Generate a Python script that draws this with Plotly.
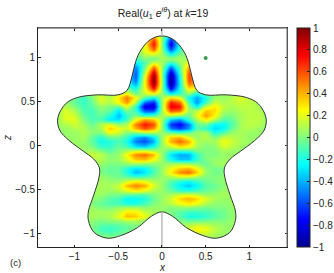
import plotly.graph_objects as go

X_GRID = [-1.2,-1.1,-1.0,-0.9,-0.8,-0.7,-0.6,-0.5,-0.4,-0.3,-0.2,-0.1,0,0.1,0.2,0.3,0.4,0.5,0.6,0.7,0.8,0.9,1.0,1.1,1.2]
Y_GRID = [1.30,1.25,1.20,1.15,1.10,1.05,1.00,0.95,0.90,0.85,0.80,0.75,0.70,0.65,0.60,0.55,0.50,0.45,0.40,0.35,0.30,0.25,0.20,0.15,0.10,0.05,0.00,
          -0.05,-0.10,-0.15,-0.20,-0.25,-0.30,-0.35,-0.40,-0.45,-0.50,-0.55,-0.60,-0.65,-0.70,-0.75,-0.80,-0.85,-0.90,-0.95,-1.00,-1.05,-1.10]

# field estimates, in hundredths; one row per Y_GRID value
FIELD = [
 [5,5,5,5,5,5,5, 5,5,5,5,5,5,5,5,5,5,5, 5,5,5,5,5,5,5],
 [5,5,5,5,5,5,5, 5,5,5,12,42,5,-48,-12,5,5,5, 5,5,5,5,5,5,5],
 [5,5,5,5,5,5,5, 5,5,5,18,64,5,-70,-20,5,5,5, 5,5,5,5,5,5,5],
 [5,5,5,5,5,5,5, 5,5,5,20,74,3,-80,-20,5,5,5, 5,5,5,5,5,5,5],
 [5,5,5,5,5,5,5, 5,5,0,20,55,5,-60,-12,5,5,5, 5,5,5,5,5,5,5],
 [5,5,5,5,5,5,5, 5,5,-5,15,22,8,-28,-3,5,5,5, 5,5,5,5,5,5,5],
 [5,5,5,5,5,5,5, 5,5,-12,2,-5,8,5,8,5,5,5, 5,5,5,5,5,5,5],
 [5,5,5,5,5,5,5, 5,-20,-25,-10,15,8,-15,5,20,5,5, 5,5,5,5,5,5,5],
 [5,5,5,5,5,5,5, 5,-30,-45,-5,48,8,-48,-5,40,30,5, 5,5,5,5,5,5,5],
 [5,5,5,5,5,5,5, 5,-30,-55,8,78,6,-80,-12,55,40,5, 5,5,5,5,5,5,5],
 [5,5,5,5,5,5,5, 5,-25,-58,18,96,5,-98,-20,62,45,5, 5,5,5,5,5,5,5],
 [5,5,5,5,5,5,5, 5,-25,-52,25,100,8,-100,-25,60,45,5, 5,5,5,5,5,5,5],
 [5,5,5,5,5,5,5, 5,-15,-40,25,95,8,-98,-25,50,35,5, 5,5,5,5,5,5,5],
 [5,5,5,5,5,5,5, 0,-5,-20,22,72,5,-75,-22,30,20,0, 5,5,5,5,5,5,5],
 [5,5,5,5,5,5,5, 10,25,-5,15,25,5,-28,-15,5,-20,0, 5,5,5,5,5,5,5],
 [5,5,-5,-15,0,20,10,30,52,25,-8,-25,5,30,20,-25,-42,-22,5,5,10,20,12,8,5],
 [5,5,-5,-15,-5,15,10,25,45,8,-55,-70,5,70,55,-10,-45,-12,15,8,12,15,12,8,5],
 [5,10,0,-12,-8,5,0,-5,20,-15,-82,-85,5,80,72,0,-25,15,28,12,8,12,12,8,5],
 [5,18,8,-10,-12,0,-5,-28,0,-15,-60,-60,5,60,55,5,10,35,32,8,5,10,12,10,5],
 [5,20,15,-5,-12,-5,-18,-38,-15,0,-15,-10,8,12,5,-5,20,45,25,0,0,8,12,12,5],
 [5,18,20,0,-10,-10,-28,-30,-12,22,45,35,8,-35,-45,-15,8,28,10,-10,-5,8,12,12,5],
 [5,10,15,8,-5,10,20,5,10,50,72,60,5,-65,-78,-50,-5,-5,-25,-25,-10,8,12,10,5],
 [5,5,10,10,0,8,35,22,15,40,60,45,5,-50,-62,-45,-8,-15,-32,-25,-5,8,10,5,5],
 [5,5,5,10,3,0,22,15,0,0,10,8,5,-5,-10,-5,5,8,-20,-8,5,8,5,5,5],
 [5,5,5,8,-5,-18,-5,-5,-15,-40,-50,-30,5,35,40,20,5,12,0,15,12,8,5,5,5],
 [5,5,5,5,-5,-22,-18,-10,-20,-50,-60,-40,5,40,55,40,10,5,8,22,15,8,5,5,5],
 [5,5,5,5,0,-15,-15,-5,-12,-30,-35,-20,5,15,30,25,8,0,3,18,12,5,5,5,5],
 [5,5,5,5,8,0,-8,0,8,15,15,8,5,-8,-12,-10,0,0,0,8,5,5,5,5,5],
 [5,5,5,5,15,12,0,5,25,48,55,38,5,-30,-42,-40,-15,0,0,5,5,5,5,5,5],
 [5,5,5,5,10,10,3,5,18,35,38,22,5,-22,-35,-35,-15,0,5,5,5,5,5,5,5],
 [5,5,5,5,8,5,0,0,5,8,5,3,5,5,8,5,0,-5,5,8,5,5,5,5,5],
 [5,5,5,5, 5,0,-5,-5,-18,-30,-25,-10,5,22,35,40,25,3,-3,0,5, 5,5,5,5],
 [5,5,5,5, 5,0,-5,-5,-20,-38,-30,-10,5,28,48,55,35,5,-3,0,5, 5,5,5,5],
 [5,5,5,5, 5,5,0,-3,-8,-15,-10,-3,5,10,18,18,8,0,0,3,5, 5,5,5,5],
 [5,5,5,5, 5,8,5,5,18,28,22,10,5,-8,-20,-25,-15,-5,0,3,5, 5,5,5,5],
 [5,5,5,5, 5,8,8,15,38,50,42,18,5,-12,-28,-35,-25,-8,-5,3,5, 5,5,5,5],
 [5,5,5,5, 5,8,5,10,20,28,20,8,5,-5,-15,-18,-12,-5,0,5,5, 5,5,5,5],
 [5,5,5,5, 5,5,0,-2,-5,-8,-8,0,5,8,15,18,12,5,5,8,5, 5,5,5,5],
 [5,5,5,5, 5,0,-8,-12,-25,-25,-20,-5,5,15,33,40,33,18,8,5,5, 5,5,5,5],
 [5,5,5,5, 0,-5,-10,-12,-20,-20,-12,0,5,12,22,28,22,10,3,3,5, 5,5,5,5],
 [5,5,5,5, 5,0,0,5,8,8,3,5,5,0,3,3,0,-3,0,0,5, 5,5,5,5],
 [5,5,5,5, 8,8,8,15,30,28,15,8,5,0,-8,-15,-15,-12,-8,-3,3, 5,5,5,5],
 [5,5,5,5, 8,5,8,20,38,35,22,5,5,0,-8,-20,-20,-15,-8,-3,3, 5,5,5,5],
 [5,5,5,5, 3,0,3,5,10,10,5,5,5,5,0,-5,-5,-3,0,0,5, 5,5,5,5],
 [5,5,5,5, 0,-8,-10,-8,-5,0,3,5,5,5,5,12,18,15,8,5,5, 5,5,5,5],
 [5,5,5,5, 0,-12,-15,-10,-5,0,5,5,5,5,8,15,25,22,12,5,5, 5,5,5,5],
 [5,5,5,5, 3,-5,-8,-5,0,3,5,5,5,5,5,10,15,15,8,5,5, 5,5,5,5],
 [5,5,5,5, 5,5,5,5,5,5,5,5,5,5,5,5,5,5,5,5,5, 5,5,5,5],
 [5,5,5,5, 5,5,5,5,5,5,5,5,5,5,5,5,5,5,5,5,5, 5,5,5,5],
]

# boundary of the star, clockwise from the top
OUTLINE_X = [0,0.13,0.24,0.30,0.345,0.40,0.50,0.74,0.966,1.10,1.19,1.17,1.06,0.90,0.78,0.715,0.72,0.78,0.84,0.84,0.775,0.623,0.47,0.28,0.12,0,
             -0.12,-0.28,-0.47,-0.623,-0.775,-0.84,-0.84,-0.78,-0.72,-0.715,-0.78,-0.90,-1.06,-1.17,-1.19,-1.10,-0.966,-0.74,-0.50,-0.40,-0.345,-0.30,-0.24,-0.13,0]
OUTLINE_Y = [1.25,1.21,1.09,0.96,0.78,0.63,0.58,0.58,0.55,0.48,0.32,0.18,0.06,-0.06,-0.15,-0.25,-0.36,-0.56,-0.74,-0.85,-0.985,-1.05,-1.02,-0.93,-0.80,-0.75,
             -0.80,-0.93,-1.02,-1.05,-0.985,-0.85,-0.74,-0.56,-0.36,-0.25,-0.15,-0.06,0.06,0.18,0.32,0.48,0.55,0.58,0.58,0.63,0.78,0.96,1.09,1.21,1.25]

X_RANGE = [-1.417, 1.43]
Y_RANGE = [-1.15, 1.34]
DOT_X = [0.5]
DOT_Y = [1.0]
X_TICKS = [-1, -0.5, 0, 0.5, 1]
Y_TICKS = [-1, -0.5, 0, 0.5, 1]
CBAR_TICKS = [-1,-0.8,-0.6,-0.4,-0.2,0,0.2,0.4,0.6,0.8,1]

assert len(FIELD) == len(Y_GRID) and all(len(r) == len(X_GRID) for r in FIELD)

JET = [[0,'rgb(0,0,143)'],[0.125,'rgb(0,0,255)'],[0.375,'rgb(0,255,255)'],[0.625,'rgb(255,255,0)'],[0.875,'rgb(255,0,0)'],[1,'rgb(128,0,0)']]
FONT = 'Liberation Sans'
INK = '#222222'

fig = go.Figure()
fig.add_trace(go.Heatmap(x=X_GRID, y=Y_GRID[::-1], z=[[v/100 for v in r] for r in FIELD[::-1]],
    zmin=-1, zmax=1, colorscale=JET, zsmooth='best', hoverinfo='skip',
    colorbar=dict(x=1.04, xanchor='left', y=0.5, yanchor='middle', len=1, thickness=13, xpad=0, ypad=0,
                  outlinewidth=1, outlinecolor=INK, tickvals=CBAR_TICKS, ticks='inside', ticklen=3,
                  tickcolor=INK, tickfont=dict(family=FONT, size=10, color=INK))))

mask_x = [X_RANGE[0],X_RANGE[1],X_RANGE[1],X_RANGE[0],X_RANGE[0],None] + OUTLINE_X
mask_y = [Y_RANGE[0],Y_RANGE[0],Y_RANGE[1],Y_RANGE[1],Y_RANGE[0],None] + OUTLINE_Y
fig.add_trace(go.Scatter(x=mask_x, y=mask_y, mode='lines', fill='toself', fillcolor='white',
                         line=dict(width=0, color='white', shape='spline', smoothing=1), hoverinfo='skip', showlegend=False))
fig.add_trace(go.Scatter(x=OUTLINE_X, y=OUTLINE_Y, mode='lines', line=dict(width=1, color='#333333', shape='spline', smoothing=1),
                         hoverinfo='skip', showlegend=False))
fig.add_trace(go.Scatter(x=[0,0,None,0,0], y=[Y_RANGE[1],1.25,None,-0.75,Y_RANGE[0]], mode='lines',
                         line=dict(width=1.5, color='#bbbbbb'), hoverinfo='skip', showlegend=False))
fig.add_trace(go.Scatter(x=DOT_X, y=DOT_Y, mode='markers', marker=dict(size=4, color='#3a9a50'), hoverinfo='skip', showlegend=False))

axis = dict(showgrid=False, zeroline=False, ticks='inside', ticklen=2.5, tickwidth=1, tickcolor=INK,
            showline=True, linewidth=1, linecolor=INK, mirror='ticks',
            tickfont=dict(family=FONT, size=10, color=INK))
TXT = dict(family=FONT, size=10, color=INK)
fig.update_layout(
    width=334, height=273, margin=dict(l=38, r=47, t=28, b=26, autoexpand=False), paper_bgcolor='white', plot_bgcolor='white',
    showlegend=False,
    xaxis=dict(axis, range=X_RANGE, tickvals=X_TICKS),
    yaxis=dict(axis, range=Y_RANGE, tickvals=Y_TICKS),
    title=dict(text='Real(<i>u</i><sub>1</sub> <i>e</i><sup><i>iθ</i></sup>) at <i>k</i>=19', x=163/334, xanchor='center',
               y=1-13/273, yanchor='middle', font=dict(family=FONT, size=10.5, color=INK)),
    annotations=[
        dict(text='(c)', xref='paper', yref='paper', x=-0.09, y=-0.07, xanchor='center', yanchor='middle', showarrow=False,
             font=dict(family=FONT, size=9.5, color=INK)),
        dict(text='<i>x</i>', xref='paper', yref='paper', x=0.5, y=-0.095, xanchor='center', yanchor='middle', showarrow=False, font=TXT),
        dict(text='<i>z</i>', xref='paper', yref='paper', x=-0.12, y=0.498, xanchor='center', yanchor='middle', textangle=-90, showarrow=False, font=TXT),
    ],
    shapes=[
        dict(type='line', xref='paper', yref='paper', x0=0, x1=1, y0=1, y1=1, line=dict(color='#808080', width=1.5)),
        dict(type='line', xref='paper', yref='paper', x0=1, x1=1, y0=0, y1=1, line=dict(color='#808080', width=1.2)),
    ],
)
fig.write_html('out.html', config={'displayModeBar': False}, post_script="document.body.style.margin='0';document.documentElement.style.overflow='hidden';")
